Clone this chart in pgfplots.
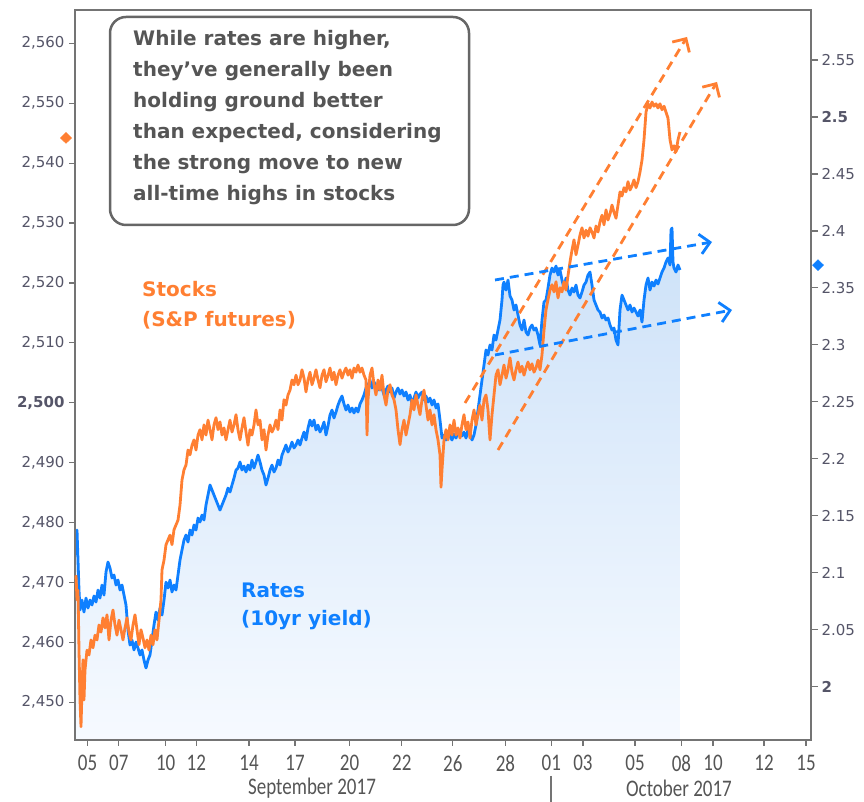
\documentclass[border=0pt]{standalone}
\usepackage{fontspec}
\usepackage{graphicx}
\usepackage{pgfplots}
\usepackage{pgfplotstable}
\pgfplotsset{compat=1.18}
\usetikzlibrary{arrows.meta}
\setmainfont{DejaVu Sans}
\newfontfamily\cb{Carlito}
\definecolor{org}{HTML}{FF7F32}
\definecolor{blu}{HTML}{0F80FF}
\definecolor{tk}{HTML}{555568}
\definecolor{frm}{HTML}{747474}
\definecolor{boxg}{HTML}{666666}
\definecolor{txt}{HTML}{555555}
\definecolor{shtop}{HTML}{CCE1F8}
\definecolor{shbot}{HTML}{F6FAFF}
\newcommand\xl[1]{\scalebox{1}[1.25]{\cb\fontsize{19}{19}\selectfont #1}}

\pgfplotstableread{
x y
76 2471.2
77 2467.1
78 2468.7
79 2458.7
80 2450.4
81 2445.9
82 2452.0
83 2457.1
84 2450.4
85 2455.4
87 2458.7
89 2457.9
91 2460.4
93 2459.1
95 2461.2
97 2460.4
99 2462.9
101 2461.7
103 2464.1
105 2462.4
107 2464.6
109 2460.4
111 2463.7
113 2465.4
115 2462.9
117 2461.2
119 2463.7
121 2462.1
123 2460.4
125 2462.4
127 2464.1
129 2461.7
131 2460.4
133 2462.9
135 2464.6
137 2462.1
139 2459.6
141 2462.1
143 2460.7
145 2459.1
147 2460.4
149 2458.7
151 2461.2
153 2459.6
155 2462.1
157 2460.4
159 2463.7
161 2467.1
162 2472.1
164 2473.7
166 2476.3
168 2477.1
170 2477.9
172 2476.3
174 2478.8
176 2479.6
178 2480.4
180 2482.9
182 2487.1
184 2488.8
186 2489.6
188 2492.1
190 2491.3
192 2492.9
194 2493.8
196 2492.1
198 2494.6
200 2495.5
202 2493.8
204 2496.3
206 2494.6
208 2497.1
210 2495.5
212 2493.8
214 2496.3
216 2497.5
218 2495.5
220 2496.8
222 2494.6
224 2495.8
226 2493.8
228 2495.5
230 2497.1
232 2495.1
234 2496.3
236 2498.0
238 2495.5
240 2493.8
242 2495.8
244 2497.5
246 2495.1
248 2492.9
250 2495.5
252 2494.6
254 2496.3
256 2498.8
258 2496.3
260 2497.1
262 2493.8
264 2495.5
266 2492.1
268 2494.6
270 2496.3
272 2495.1
274 2495.8
276 2497.1
278 2495.5
280 2498.8
282 2497.1
284 2500.5
286 2499.6
288 2501.3
290 2502.1
292 2503.8
294 2503.0
296 2504.6
298 2503.0
300 2503.8
302 2505.5
304 2504.1
306 2501.8
308 2503.8
310 2505.1
312 2503.0
314 2504.1
316 2505.5
318 2503.8
320 2502.5
322 2504.6
324 2505.5
326 2503.5
328 2504.5
330 2505.8
332 2503.8
334 2505.1
336 2503.0
338 2504.6
340 2505.5
342 2504.1
344 2505.1
346 2505.8
348 2504.6
350 2505.5
352 2504.1
354 2505.8
356 2505.1
358 2506.3
360 2505.1
362 2505.8
364 2504.6
366 2503.8
367 2494.6
368 2500.5
370 2504.6
372 2505.8
374 2503.0
376 2501.3
378 2503.8
380 2502.1
382 2504.6
384 2501.3
386 2499.6
388 2502.1
390 2503.0
392 2501.3
394 2500.5
396 2498.8
398 2495.5
400 2493.0
402 2495.5
404 2497.1
406 2494.6
408 2496.3
410 2498.0
412 2500.5
414 2498.8
416 2501.3
418 2499.6
420 2498.0
422 2500.5
424 2502.1
426 2499.6
428 2497.1
430 2498.8
432 2496.3
434 2498.0
436 2495.5
438 2493.8
440 2491.3
441 2485.9
442 2488.8
444 2493.8
446 2495.5
448 2493.8
450 2496.3
452 2494.6
454 2497.1
456 2494.6
458 2495.8
460 2494.1
462 2496.3
464 2498.0
466 2495.5
468 2496.8
470 2494.1
472 2497.1
474 2498.8
476 2496.3
478 2498.0
480 2499.6
482 2497.1
484 2500.5
486 2501.3
488 2498.8
490 2493.8
492 2498.0
494 2501.3
496 2504.6
498 2505.5
500 2503.0
502 2504.6
504 2506.3
506 2504.1
508 2505.5
510 2507.5
512 2505.1
514 2503.8
516 2505.5
518 2506.8
520 2505.1
522 2506.1
524 2504.6
526 2505.8
528 2506.8
530 2505.5
532 2506.5
534 2505.1
536 2505.8
538 2507.1
540 2505.5
542 2508.0
544 2512.1
546 2515.5
548 2517.2
550 2518.8
552 2519.7
554 2518.5
556 2520.2
558 2517.5
560 2519.2
562 2518.5
564 2520.2
566 2518.8
568 2521.2
570 2523.5
572 2525.5
574 2527.2
576 2524.7
578 2526.3
580 2528.0
582 2529.2
584 2527.5
586 2528.8
588 2527.8
590 2529.2
592 2528.5
594 2527.5
596 2529.5
598 2528.5
600 2530.2
602 2531.3
604 2529.7
606 2532.2
608 2530.5
610 2531.5
612 2533.0
614 2531.8
616 2530.8
618 2533.0
620 2535.2
622 2534.5
624 2535.9
626 2535.2
628 2536.9
630 2535.5
632 2536.2
634 2537.2
636 2535.9
638 2536.9
640 2538.5
642 2540.5
644 2543.9
646 2548.5
648 2549.9
650 2549.2
652 2550.2
654 2549.5
656 2549.9
658 2549.2
660 2549.9
662 2548.9
664 2549.5
666 2548.5
668 2547.5
670 2543.9
672 2542.2
674 2542.9
676 2541.9
678 2543.9
680 2545.2
}\stocks

\pgfplotstableread{
x y
76 2.1155
77 2.1375
78 2.1111
79 2.0848
80 2.0673
82 2.0760
84 2.0655
86 2.0778
88 2.0690
90 2.0760
92 2.0717
94 2.0796
96 2.0743
98 2.0848
100 2.0778
102 2.0892
104 2.0804
106 2.1006
108 2.1094
110 2.1041
112 2.0954
114 2.0980
116 2.0892
118 2.0936
120 2.0848
122 2.0892
124 2.0804
126 2.0717
128 2.0497
130 2.0365
132 2.0409
134 2.0322
136 2.0392
138 2.0339
140 2.0278
142 2.0322
144 2.0234
146 2.0164
148 2.0234
150 2.0278
152 2.0409
154 2.0541
156 2.0655
158 2.0585
160 2.0690
162 2.0629
164 2.0760
166 2.0918
168 2.0866
170 2.0936
172 2.0831
174 2.0892
176 2.0848
178 2.0980
180 2.1111
182 2.1199
184 2.1287
186 2.1331
188 2.1269
190 2.1375
192 2.1331
194 2.1419
196 2.1375
198 2.1480
200 2.1445
202 2.1506
204 2.1463
206 2.1594
208 2.1682
210 2.1770
212 2.1726
214 2.1682
216 2.1638
218 2.1594
220 2.1550
222 2.1594
224 2.1638
226 2.1682
228 2.1743
230 2.1708
232 2.1770
234 2.1831
236 2.1901
238 2.1919
240 2.1972
242 2.1901
244 2.1936
246 2.1884
248 2.1945
250 2.1901
252 2.1989
254 2.1919
256 2.1972
258 2.2033
260 2.1972
262 2.1901
264 2.1858
266 2.1770
268 2.1831
270 2.1901
272 2.1945
274 2.1884
276 2.1919
278 2.1989
280 2.1945
282 2.2033
284 2.2077
286 2.2121
288 2.2059
290 2.2095
292 2.2147
294 2.2095
296 2.2121
298 2.2165
300 2.2121
302 2.2182
304 2.2235
306 2.2165
308 2.2270
310 2.2340
312 2.2288
314 2.2340
316 2.2253
318 2.2296
320 2.2235
322 2.2270
324 2.2323
326 2.2209
328 2.2288
330 2.2384
332 2.2428
334 2.2358
336 2.2410
338 2.2472
340 2.2516
342 2.2551
344 2.2481
346 2.2428
348 2.2472
350 2.2410
352 2.2446
354 2.2402
356 2.2446
358 2.2410
360 2.2481
362 2.2516
364 2.2560
366 2.2621
368 2.2647
370 2.2691
372 2.2621
374 2.2674
376 2.2639
378 2.2604
380 2.2656
382 2.2621
384 2.2560
386 2.2604
388 2.2639
390 2.2586
392 2.2621
394 2.2533
396 2.2586
398 2.2621
400 2.2568
402 2.2604
404 2.2551
406 2.2586
408 2.2516
410 2.2560
412 2.2481
414 2.2533
416 2.2586
418 2.2533
420 2.2568
422 2.2586
424 2.2516
426 2.2551
428 2.2498
430 2.2533
432 2.2472
434 2.2516
436 2.2446
438 2.2481
440 2.2340
442 2.2182
444 2.2209
446 2.2165
448 2.2235
450 2.2200
452 2.2165
454 2.2217
456 2.2182
458 2.2235
460 2.2253
462 2.2200
464 2.2235
466 2.2182
468 2.2253
470 2.2217
472 2.2165
474 2.2209
476 2.2296
478 2.2428
480 2.2560
482 2.2691
484 2.2823
486 2.2955
488 2.2911
490 2.2999
492 2.2955
494 2.3086
496 2.3042
498 2.3130
500 2.3218
502 2.3394
503 2.3525
504 2.3551
506 2.3481
508 2.3569
510 2.3429
512 2.3394
514 2.3306
516 2.3350
518 2.3262
520 2.3174
522 2.3130
524 2.3218
526 2.3113
528 2.3086
530 2.3148
532 2.3174
534 2.3130
536 2.3148
538 2.3086
540 2.2999
542 2.3218
544 2.3376
546 2.3394
548 2.3499
550 2.3613
552 2.3674
554 2.3639
556 2.3692
558 2.3613
560 2.3657
562 2.3569
564 2.3499
566 2.3587
568 2.3481
570 2.3437
572 2.3499
574 2.3464
576 2.3525
578 2.3437
580 2.3411
582 2.3464
584 2.3525
586 2.3551
588 2.3613
590 2.3639
592 2.3525
594 2.3394
596 2.3350
598 2.3306
600 2.3288
602 2.3236
604 2.3262
606 2.3218
608 2.3236
610 2.3174
612 2.3130
614 2.3148
616 2.3042
618 2.2999
620 2.3306
622 2.3437
624 2.3394
626 2.3350
628 2.3306
630 2.3350
632 2.3288
634 2.3323
636 2.3288
638 2.3253
640 2.3306
642 2.3200
644 2.3394
646 2.3525
648 2.3587
650 2.3481
652 2.3551
654 2.3516
656 2.3569
658 2.3534
660 2.3587
662 2.3639
664 2.3674
666 2.3727
668 2.3762
670 2.3701
671 2.4008
672 2.4025
673 2.3727
674 2.3674
676 2.3639
678 2.3701
680 2.3657
}\rates

\begin{document}
\begin{tikzpicture}[x=1pt,y=1pt]
\path[use as bounding box] (0,0) rectangle (864,802);

% ---------- rates axis (right) ----------
\begin{axis}[
  at={(75pt,62pt)}, anchor=south west,
  scale only axis, width=736pt, height=730pt,
  xmin=75, xmax=811, ymin=1.9532, ymax=2.5939,
  hide x axis, axis y line*=right, clip=false,
  axis line style={frm, line width=1.6pt},
  ytick={2,2.05,2.1,2.15,2.2,2.25,2.3,2.35,2.4,2.45,2.5,2.55},
  yticklabels={\textbf{2},2.05,2.1,2.15,2.2,2.25,2.3,2.35,2.4,2.45,\textbf{2.5},2.55},
  tick align=outside, major tick length=7pt,
  tick style={frm, line width=1.2pt},
  yticklabel style={font=\fontsize{15}{15}\selectfont, text=tk, anchor=west, xshift=0pt},
]
\addplot[draw=none, top color=shtop, bottom color=shbot] table[x=x,y=y] {\rates}
  -- (axis cs:680,1.9532) -- (axis cs:76,1.9532) -- cycle;
\addplot[blu, line width=2.8pt, line join=round] table[x=x,y=y] {\rates};
\addplot[only marks, mark=diamond*, mark size=5.5pt, mark options={xscale=1.35}, blu] coordinates {(818,2.370)};
\end{axis}

% ---------- stocks axis (left) ----------
\begin{axis}[
  at={(75pt,62pt)}, anchor=south west,
  scale only axis, width=736pt, height=730pt,
  xmin=75, xmax=811, ymin=2443.7, ymax=2565.56, clip=false,
  axis line style={frm, line width=1.6pt},
  xtick pos=bottom, ytick pos=left,
  ytick={2450,2460,2470,2480,2490,2500,2510,2520,2530,2540,2550,2560},
  yticklabels={{2,450},{2,460},{2,470},{2,480},{2,490},{\textbf{2,500}},{2,510},{2,520},{2,530},{2,540},{2,550},{2,560}},
  xtick={87.5,118.8,165.7,196.3,249,295,349.5,401.8,452.8,505.4,551.3,582.9,635,681.4,713,764,806},
  xticklabels={\xl{05},\xl{07},\xl{10},\xl{12},\xl{14},\xl{17},\xl{20},\xl{22},\xl{26},\xl{28},\xl{01},\xl{03},\xl{05},\xl{08},\xl{10},\xl{12},\xl{15}},
  tick align=outside, major tick length=6pt,
  tick style={frm, line width=1.2pt},
  yticklabel style={font=\fontsize{15}{15}\selectfont, text=tk, anchor=east, xshift=-1pt},
  xticklabel style={text=txt, anchor=north, yshift=-6pt},
]
\addplot[org, line width=2.8pt, line join=round] table[x=x,y=y] {\stocks};
\addplot[only marks, mark=diamond*, mark size=5.5pt, mark options={xscale=1.35}, org] coordinates {(66,2544.2)};
\end{axis}

% ---------- annotations (pixel frame, y measured from top) ----------
\begin{scope}[shift={(0,802)}, y=-1pt]
  \draw[boxg, line width=2.5pt, rounded corners=16pt, fill=white] (110,17) rectangle (469,225);
  \node[anchor=north west, inner sep=0pt, align=left, text=txt, font=\bfseries\fontsize{20}{31}\selectfont] at (133,30)
    {While rates are higher,\\they've generally been\\holding ground better\\than expected, considering\\the strong move to new\\all-time highs in stocks};
  \node[anchor=west, inner sep=0pt, text=org, font=\bfseries\fontsize{20}{20}\selectfont] at (142,289) {Stocks};
  \node[anchor=west, inner sep=0pt, text=org, font=\bfseries\fontsize{20}{20}\selectfont] at (142,320) {(S\&P futures)};
  \node[anchor=west, inner sep=0pt, text=blu, font=\bfseries\fontsize{20}{20}\selectfont] at (241,590) {Rates};
  \node[anchor=west, inner sep=0pt, text=blu, font=\bfseries\fontsize{20}{20}\selectfont] at (241,620) {(10yr yield)};
  \draw[org, line width=2.8pt, dash pattern=on 9pt off 6pt, -{Straight Barb[length=10pt,width=20pt,line width=2.8pt]}] (465,403) -- (687,37);
  \draw[org, line width=2.8pt, dash pattern=on 9pt off 6pt, -{Straight Barb[length=10pt,width=20pt,line width=2.8pt]}] (498,450) -- (717,82);
  \draw[blu, line width=2.8pt, dash pattern=on 9pt off 6pt, -{Straight Barb[length=10pt,width=20pt,line width=2.8pt]}] (495,280) -- (712,242);
  \draw[blu, line width=2.8pt, dash pattern=on 9pt off 6pt, -{Straight Barb[length=10pt,width=20pt,line width=2.8pt]}] (495,355) -- (732,310);
  \node[text=txt] at (312,788) {\xl{September 2017}};
  \node[text=txt] at (679,788) {\xl{October 2017}};
  \draw[frm, line width=1.2pt] (551,776) -- (551,802);
\end{scope}
\end{tikzpicture}
\end{document}
